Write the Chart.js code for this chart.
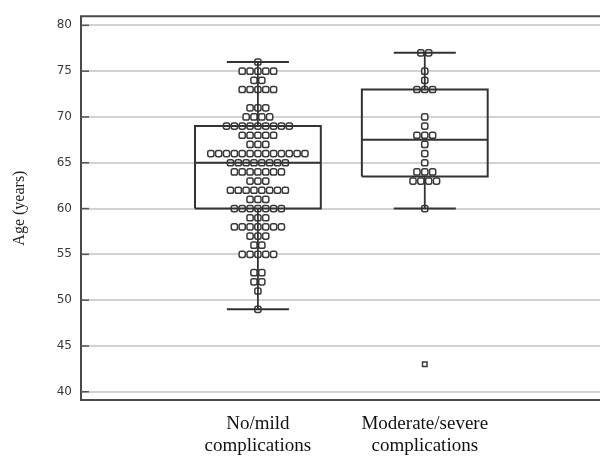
<!DOCTYPE html>
<html>
<head>
<meta charset="utf-8">
<script src="https://cdn.jsdelivr.net/npm/chart.js@4/dist/chart.umd.min.js"></script>
<style>
  html, body { margin: 0; padding: 0; background: #ffffff; overflow: hidden; }
  #wrap { width: 600px; height: 459px; position: relative; }
  canvas { display: block; }
</style>
</head>
<body>
<div id="wrap"><canvas id="c" width="600" height="459"></canvas></div>
<script>
// Group labels and their positions on the x axis
const categories = [['No/mild', 'complications'], ['Moderate/severe', 'complications']];
const groupPositions = [1, 2];

// Individual ages (value and how many patients share it)
const mildAges   = [76, 75, 74, 73, 71, 70, 69, 68, 67, 66, 65, 64, 63, 62, 61, 60, 59, 58, 57, 56, 55, 53, 52, 51, 49];
const mildCounts = [ 1,  5,  2,  5,  3,  4,  9,  5,  3, 13,  8,  7,  3,  8,  3,  7,  3,  7,  3,  2,  5,  2,  2,  1,  1];
const severeAges   = [77, 75, 74, 73, 70, 69, 68, 67, 66, 65, 64, 63, 60, 43];
const severeCounts = [ 2,  1,  1,  3,  1,  1,  3,  1,  1,  1,  3,  4,  1,  1];
const severeOutliers = [43];

// Box plot summaries, one entry per group
const whiskerLow    = [49, 60];
const lowerQuartile = [60, 63.5];
const medians       = [65, 67.5];
const upperQuartile = [69, 73];
const whiskerHigh   = [76, 77];

// Y axis ticks
const yTickValues = [40, 45, 50, 55, 60, 65, 70, 75, 80];

// Geometry in x-axis units
const BOX_HALF = 0.377;
const CAP_HALF = 0.186;
const DOT_STEP = 0.047;

const INK = '#333333';

function dotPoints(center, ages, counts) {
  const pts = [];
  ages.forEach((age, i) => {
    const n = counts[i];
    for (let k = 0; k < n; k++) {
      pts.push({ x: center + (k - (n - 1) / 2) * DOT_STEP, y: age });
    }
  });
  return pts;
}

function segment(points, width) {
  return {
    type: 'scatter',
    data: points,
    showLine: true,
    borderColor: INK,
    borderWidth: width,
    pointRadius: 0,
    pointHoverRadius: 0,
    fill: false,
    order: 1
  };
}

const datasets = [];

// Dot columns
[[mildAges, mildCounts], [severeAges, severeCounts]].forEach(([ages, counts], g) => {
  const pts = dotPoints(groupPositions[g], ages, counts);
  const isOutlier = p => g === 1 && severeOutliers.includes(p.y);
  datasets.push({
    type: 'scatter',
    data: pts,
    pointStyle: pts.map(p => isOutlier(p) ? 'rect' : 'rectRounded'),
    pointRadius: pts.map(p => isOutlier(p) ? 3.2 : 3.6),
    pointBackgroundColor: '#ffffff',
    pointBorderColor: '#3a3a3a',
    pointBorderWidth: 1.5,
    order: 2
  });
});

// Boxes, medians and whiskers
groupPositions.forEach((c, g) => {
  const l = c - BOX_HALF, r = c + BOX_HALF;
  datasets.push(segment([
    { x: l, y: lowerQuartile[g] }, { x: r, y: lowerQuartile[g] },
    { x: r, y: upperQuartile[g] }, { x: l, y: upperQuartile[g] },
    { x: l, y: lowerQuartile[g] }
  ], 2));
  datasets.push(segment([{ x: l, y: medians[g] }, { x: r, y: medians[g] }], 2));
  datasets.push(segment([{ x: c, y: lowerQuartile[g] }, { x: c, y: whiskerLow[g] }], 1.8));
  datasets.push(segment([{ x: c, y: upperQuartile[g] }, { x: c, y: whiskerHigh[g] }], 1.8));
  datasets.push(segment([{ x: c - CAP_HALF, y: whiskerLow[g] }, { x: c + CAP_HALF, y: whiskerLow[g] }], 2));
  datasets.push(segment([{ x: c - CAP_HALF, y: whiskerHigh[g] }, { x: c + CAP_HALF, y: whiskerHigh[g] }], 2));
});

// Frame on three sides plus short inner tick marks on the value axis
const framePlugin = {
  id: 'frame',
  beforeDraw(chart) {
    const ctx = chart.ctx;
    ctx.save();
    ctx.fillStyle = '#ffffff';
    ctx.fillRect(0, 0, chart.width, chart.height);
    ctx.restore();
  },
  beforeDatasetsDraw(chart) {
    const { ctx, chartArea: a, scales } = chart;
    ctx.save();
    ctx.strokeStyle = '#4a4a4a';
    ctx.lineWidth = 2;
    ctx.beginPath();
    ctx.moveTo(a.right, a.top);
    ctx.lineTo(a.left, a.top);
    ctx.lineTo(a.left, a.bottom);
    ctx.lineTo(a.right, a.bottom);
    ctx.stroke();
    ctx.strokeStyle = '#555555';
    ctx.lineWidth = 1.5;
    yTickValues.forEach(v => {
      const y = scales.y.getPixelForValue(v);
      ctx.beginPath();
      ctx.moveTo(a.left, y);
      ctx.lineTo(a.left + 8, y);
      ctx.stroke();
    });
    ctx.restore();
  }
};

new Chart(document.getElementById('c'), {
  type: 'scatter',
  data: { datasets },
  options: {
    responsive: false,
    animation: false,
    layout: { autoPadding: false, padding: { top: 15, left: 0, right: 0, bottom: 0 } },
    plugins: { legend: { display: false }, tooltip: { enabled: false } },
    scales: {
      x: {
        type: 'linear',
        min: -0.06,
        max: 3.05,
        afterFit(s) { s.height = 59; },
        afterBuildTicks(s) { s.ticks = groupPositions.map(v => ({ value: v })); },
        grid: { display: false, drawTicks: false },
        border: { display: false },
        ticks: {
          padding: 13,
          maxRotation: 0,
          autoSkip: false,
          color: '#111111',
          font: { family: '"Liberation Serif", "Times New Roman", serif', size: 19, lineHeight: 1.15 },
          callback: (v) => categories[groupPositions.indexOf(v)]
        }
      },
      y: {
        type: 'linear',
        min: 39.1,
        max: 81,
        afterFit(s) { s.width = 81; },
        afterBuildTicks(s) { s.ticks = yTickValues.map(v => ({ value: v })); },
        grid: { color: '#d2d2d2', lineWidth: 2, drawTicks: false },
        border: { display: false },
        ticks: {
          padding: 9,
          color: '#3a3a3a',
          font: { family: '"DejaVu Sans", sans-serif', size: 12 }
        },
        title: {
          display: true,
          text: 'Age (years)',
          color: '#222222',
          padding: { top: 10, bottom: 0 },
          font: { family: '"Liberation Serif", "Times New Roman", serif', size: 16 }
        }
      }
    }
  },
  plugins: [framePlugin]
});
</script>
</body>
</html>
